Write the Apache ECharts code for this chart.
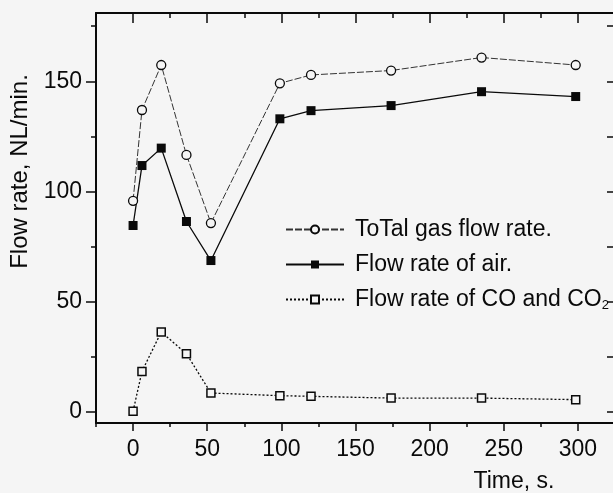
<!DOCTYPE html>
<html><head><meta charset="utf-8">
<script src="https://cdn.jsdelivr.net/npm/echarts@6/dist/echarts.min.js"></script>
<style>html,body{margin:0;padding:0;background:#f5f5f5}#c{width:613px;height:493px}</style>
</head><body><div id="c"></div><script>
const timeS = [0, 6, 19, 36, 52.5, 99, 120, 174, 235, 298.5];
const totalFlow = [95.8, 137.0, 157.4, 116.6, 85.7, 149.1, 152.9, 154.9, 160.8, 157.4];
const airFlow = [84.6, 111.8, 119.7, 86.4, 68.7, 133.0, 136.7, 139.0, 145.3, 143.1];
const coFlow = [0.3, 18.4, 36.3, 26.4, 8.6, 7.4, 7.1, 6.3, 6.3, 5.6];
const xMajorTicks = [0, 50, 100, 150, 200, 250, 300];
const xMinorTicks = [-25, 25, 75, 125, 175, 225, 275, 325];
const yMajorTicks = [0, 50, 100, 150];
const yMinorTicks = [25, 75, 125, 175];
const yAllTicks = [0, 25, 50, 75, 100, 125, 150, 175];
const seriesNames = ['ToTal gas flow rate.', 'Flow rate of air.', 'Flow rate of CO and CO2'];
const xName = 'Time, s.';
const yName = 'Flow rate, NL/min.';

const BG = '#f5f5f5', INK = '#0a0a0a';
const FONT = '"Liberation Sans", Arial, sans-serif';
const pairs = (vals) => timeS.map((t, i) => [t, vals[i]]);

const X = {type: 'value', min: -25, max: 325, splitLine: {show: false}};
const Y = {type: 'value', min: -5, max: 181, splitLine: {show: false}};
const line = {show: true, onZero: false, lineStyle: {color: INK, width: 2}};
const noLine = {show: false, onZero: false};
const noLabel = {show: false};
const tickStyle = {color: INK, width: 1.5};

const chart = echarts.init(document.getElementById('c'));
chart.setOption({
  animation: false,
  backgroundColor: BG,
  textStyle: {fontFamily: FONT, color: INK},
  grid: {left: 96, right: -2, top: 13, bottom: 70, containLabel: false, outerBoundsMode: 'none'},
  xAxis: [
    Object.assign({}, X, {position: 'bottom', axisLine: line,
      axisTick: {show: true, inside: false, length: 8, customValues: xMajorTicks, lineStyle: tickStyle},
      axisLabel: {show: true, customValues: xMajorTicks, margin: 15, fontSize: 23, fontFamily: FONT, color: INK},
      name: xName, nameLocation: 'middle', nameGap: 47,
      nameTextStyle: {fontSize: 23, fontFamily: FONT, color: INK, padding: [0, 0, 0, 317]}}),
    Object.assign({}, X, {position: 'bottom', axisLine: noLine, axisLabel: noLabel,
      axisTick: {show: true, inside: false, length: 4, customValues: xMinorTicks, lineStyle: tickStyle}}),
    Object.assign({}, X, {position: 'top', axisLine: line, axisLabel: noLabel,
      axisTick: {show: true, inside: true, length: 10, customValues: xMajorTicks, lineStyle: tickStyle}}),
    Object.assign({}, X, {position: 'top', axisLine: noLine, axisLabel: noLabel,
      axisTick: {show: true, inside: true, length: 5, customValues: xMinorTicks, lineStyle: tickStyle}})
  ],
  yAxis: [
    Object.assign({}, Y, {position: 'left', axisLine: line,
      axisTick: {show: true, inside: false, length: 10, customValues: yMajorTicks, lineStyle: tickStyle},
      axisLabel: {show: true, customValues: yMajorTicks, margin: 14, fontSize: 23, fontFamily: FONT, color: INK},
      name: yName, nameLocation: 'middle', nameGap: 64,
      nameTextStyle: {fontSize: 24, fontFamily: FONT, color: INK, padding: [0, 0, 0, 93]}}),
    Object.assign({}, Y, {position: 'left', axisLine: noLine, axisLabel: noLabel,
      axisTick: {show: true, inside: false, length: 5, customValues: yMinorTicks, lineStyle: tickStyle}}),
    Object.assign({}, Y, {position: 'right', axisLine: line, axisLabel: noLabel,
      axisTick: {show: true, inside: true, length: 8, customValues: yAllTicks, lineStyle: tickStyle}})
  ],
  legend: {
    orient: 'vertical', left: 280, top: 213,
    itemWidth: 58, itemHeight: 10, itemGap: 12,
    data: seriesNames,
    formatter: function (name) {
      if (name === seriesNames[2]) return '{t|Flow rate of CO and CO}{s|2}';
      return '{t|' + name + '}';
    },
    textStyle: {fontFamily: FONT, color: INK, fontSize: 23, padding: [0, 0, 0, 6],
      rich: {t: {fontSize: 23, fontFamily: FONT, color: INK, lineHeight: 25},
             s: {fontSize: 13, fontFamily: FONT, color: INK, padding: [12, 0, 0, 0]}}}
  },
  series: [
    {name: seriesNames[0], type: 'line', xAxisIndex: 0, yAxisIndex: 0, data: pairs(totalFlow),
      symbol: 'circle', symbolSize: 9,
      itemStyle: {color: BG, borderColor: INK, borderWidth: 1.3},
      lineStyle: {color: '#333', width: 1, type: [7, 2]}},
    {name: seriesNames[1], type: 'line', xAxisIndex: 0, yAxisIndex: 0, data: pairs(airFlow),
      symbol: 'rect', symbolSize: 9,
      itemStyle: {color: INK, borderColor: INK, borderWidth: 0},
      lineStyle: {color: INK, width: 1.3, type: 'solid'}},
    {name: seriesNames[2], type: 'line', xAxisIndex: 0, yAxisIndex: 0, data: pairs(coFlow),
      symbol: 'rect', symbolSize: 8,
      itemStyle: {color: BG, borderColor: INK, borderWidth: 1.5},
      lineStyle: {color: INK, width: 1.3, type: [2, 2]}}
  ]
});
</script></body></html>
